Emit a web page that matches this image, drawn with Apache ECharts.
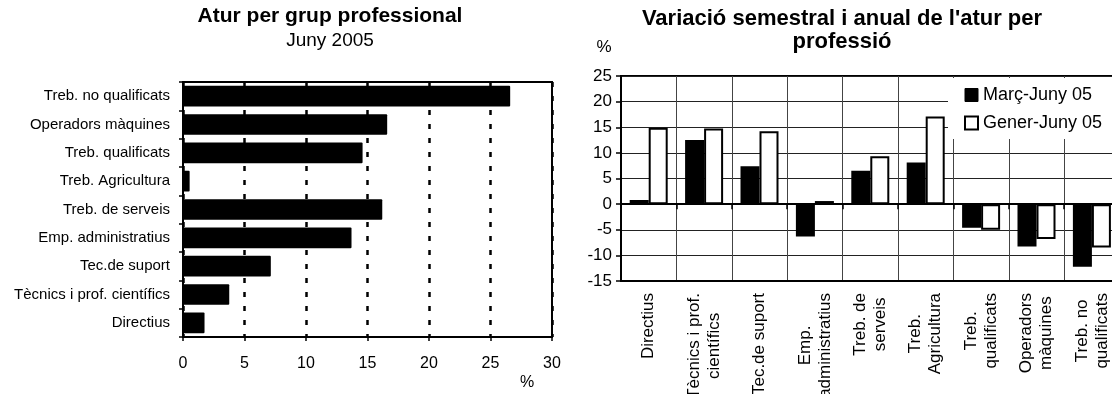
<!DOCTYPE html>
<html>
<head>
<meta charset="utf-8">
<script src="https://cdn.jsdelivr.net/npm/echarts@6/dist/echarts.min.js"></script>
<style>
html,body{margin:0;padding:0;background:#fff;}
#c{width:1112px;height:394px;}
</style>
</head>
<body>
<div id="c"></div>
<script>
// ---- data ----
const categories = ['Directius','Tècnics i prof. científics','Tec.de suport','Emp. administratius','Treb. de serveis','Treb. Agricultura','Treb. qualificats','Operadors màquines','Treb. no qualificats'];
const juny2005 = [1.75, 3.76, 7.14, 13.7, 16.2, 0.54, 14.6, 16.6, 26.6];
const variationLabels = ['Directius','Tècnics i prof.\ncientífics','Tec.de suport','Emp.\nadministratius','Treb. de\nserveis','Treb.\nAgricultura','Treb.\nqualificats','Operadors\nmàquines','Treb. no\nqualificats'];
const seriesNames = ['Març-Juny 05','Gener-Juny 05'];
const marcJuny = [0.8, 12.5, 7.4, -6.3, 6.5, 8.1, -4.6, -8.25, -12.2];
const generJuny = [14.9, 14.75, 14.2, 0.6, 9.35, 17.1, -5.0, -6.8, -8.45];
const leftTicks = {min: 0, max: 30, interval: 5};
const rightTicks = {min: -15, max: 25, interval: 5};

const FONT = "'Liberation Sans', Arial, sans-serif";
const chart = echarts.init(document.getElementById('c'), null, {renderer: 'canvas'});

const option = {
  backgroundColor: '#fff',
  animation: false,
  textStyle: {fontFamily: FONT, color: '#000'},
  title: [
    {text: 'Atur per grup professional', subtext: 'Juny 2005', left: 330, top: 6, textAlign: 'center', padding: 0, itemGap: 4,
     textStyle: {fontFamily: FONT, fontSize: 21, fontWeight: 'bold', color: '#000'},
     subtextStyle: {fontFamily: FONT, fontSize: 19, color: '#000'}},
    {text: "Variació semestral i anual de l'atur per\nprofessió", left: 842, top: 7, textAlign: 'center', padding: 0,
     textStyle: {fontFamily: FONT, fontSize: 22, fontWeight: 'bold', color: '#000', lineHeight: 23}},
    {text: '%', left: 604, top: 39, textAlign: 'center', padding: 0,
     textStyle: {fontFamily: FONT, fontSize: 17, fontWeight: 'normal', color: '#000'}},
    {text: '%', left: 527, top: 375, textAlign: 'center', padding: 0,
     textStyle: {fontFamily: FONT, fontSize: 16, fontWeight: 'normal', color: '#000'}}
  ],
  legend: {
    orient: 'vertical', left: 948, top: 78, padding: [8, 10, 7, 16], itemGap: 10,
    backgroundColor: '#fff', icon: 'rect', itemWidth: 13, itemHeight: 13,
    textStyle: {fontFamily: FONT, fontSize: 18, color: '#000'},
    data: [
      {name: seriesNames[0], itemStyle: {color: '#000', borderColor: '#000', borderWidth: 1}},
      {name: seriesNames[1], itemStyle: {color: '#fff', borderColor: '#000', borderWidth: 2}}
    ]
  },
  grid: [
    {left: 183, top: 82, width: 369, height: 255, show: true, borderColor: '#000', borderWidth: 2, backgroundColor: 'transparent',
     containLabel: false, outerBoundsMode: 'none'},
    {left: 621, top: 76, width: 498.6, height: 205, show: true, borderColor: '#000', borderWidth: 2, backgroundColor: 'transparent',
     containLabel: false, outerBoundsMode: 'none'}
  ],
  xAxis: [
    {gridIndex: 0, type: 'value', position: 'bottom', min: leftTicks.min, max: leftTicks.max, interval: leftTicks.interval,
     axisLine: {show: true, lineStyle: {color: '#000', width: 2}},
     axisTick: {show: true, length: 4, lineStyle: {color: '#000', width: 1.5}},
     axisLabel: {fontFamily: FONT, fontSize: 16, color: '#000', margin: 19},
     splitLine: {show: true, lineStyle: {color: '#000', width: 2.5, type: [5, 9]}}},
    {gridIndex: 1, type: 'category', position: 'bottom', data: variationLabels, boundaryGap: true,
     axisLine: {show: true, onZero: false, lineStyle: {color: '#000', width: 2}},
     axisTick: {show: false},
     axisLabel: {rotate: 90, margin: 12, interval: 0, fontFamily: FONT, fontSize: 17, color: '#000', lineHeight: 20,
       formatter: function (v) { return v.split('\n').map(function (s) { return '{c|' + s + '}'; }).join('\n'); },
       rich: {c: {align: 'center', fontFamily: FONT, fontSize: 17, lineHeight: 20, color: '#000'}}},
     splitLine: {show: true, interval: 0, lineStyle: {color: '#444', width: 1}}},
    {gridIndex: 1, type: 'category', position: 'bottom', data: variationLabels, boundaryGap: true,
     axisLine: {show: true, onZero: true, onZeroAxisIndex: 1, lineStyle: {color: '#000', width: 2}},
     axisTick: {show: true, interval: 0, length: 5, lineStyle: {color: '#000', width: 1.5}},
     axisLabel: {show: false},
     splitLine: {show: false}}
  ],
  yAxis: [
    {gridIndex: 0, type: 'category', data: categories, boundaryGap: true,
     axisLine: {show: true, lineStyle: {color: '#000', width: 2}},
     axisTick: {show: true, length: 4, interval: 0, lineStyle: {color: '#000', width: 1.5}},
     axisLabel: {fontFamily: FONT, fontSize: 15, color: '#000', margin: 13, interval: 0},
     splitLine: {show: false}},
    {gridIndex: 1, type: 'value', min: rightTicks.min, max: rightTicks.max, interval: rightTicks.interval,
     axisLine: {show: true, lineStyle: {color: '#000', width: 2}},
     axisTick: {show: true, length: 5, lineStyle: {color: '#000', width: 1.5}},
     axisLabel: {fontFamily: FONT, fontSize: 17, color: '#000', margin: 9},
     splitLine: {show: true, lineStyle: {color: '#222', width: 1}}}
  ],
  series: [
    {type: 'bar', name: 'Juny 2005', xAxisIndex: 0, yAxisIndex: 0, data: juny2005, barCategoryGap: '27%',
     itemStyle: {color: '#000', borderRadius: 1}, z: 3},
    {type: 'bar', name: seriesNames[0], xAxisIndex: 1, yAxisIndex: 1, data: marcJuny, barCategoryGap: '31.4%', barGap: '0%',
     itemStyle: {color: '#000', borderColor: '#000', borderWidth: 2}, z: 3},
    {type: 'bar', name: seriesNames[1], xAxisIndex: 1, yAxisIndex: 1, data: generJuny, barCategoryGap: '31.4%', barGap: '0%',
     itemStyle: {color: '#fff', borderColor: '#000', borderWidth: 2}, z: 3}
  ]
};
chart.setOption(option);
</script>
</body>
</html>
